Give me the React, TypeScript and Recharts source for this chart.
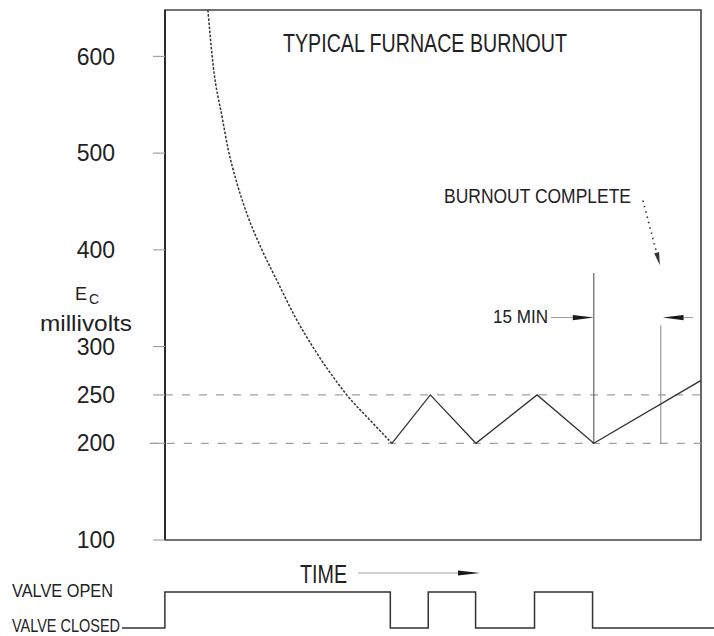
import React from 'react';
import { LineChart, Line, XAxis, YAxis, ReferenceLine, ReferenceArea } from 'recharts';

// Furnace burnout: Ec (millivolts) against time (minutes)
const decayMinutes = [9.6, 10.8, 12.8, 14.1, 16.1, 18.6, 21.7, 25.3, 29.1, 33.6, 38.7, 40.7, 46.3, 50.8];
const decayMillivolts = [648, 590, 537, 505, 469, 434, 400, 366, 331, 296, 262, 250, 222, 200];
const cycleMinutes = [50.8, 59.4, 69.6, 83.3, 96.0, 120];
const cycleMillivolts = [200, 250, 200, 250, 200, 265];
// Valve signal: 1 = open, 0 = closed
const valveMinutes = [-9.6, 0, 50.5, 59.0, 69.6, 82.8, 95.8, 123];
const valveStates = [0, 1, 0, 1, 0, 1, 0, 0];
const yTicks = [100, 200, 250, 300, 400, 500, 600];
const limitLevels = [250, 200];
const burnoutStartMinute = 96;
const burnoutCompleteMinute = 111;
const intervalLabelMv = 330;

const decayData = decayMinutes.map((t, i) => ({ t, mv: decayMillivolts[i] }));
const cycleData = cycleMinutes.map((t, i) => ({ t, mv: cycleMillivolts[i] }));
const valveData = valveMinutes.map((t, i) => ({ t, s: valveStates[i] }));

const FONT = '"Liberation Sans", Arial, Helvetica, sans-serif';
const INK = '#222';

const makeArrow =
  (o: { color: string; width: number; dash?: string; headLen: number; headHalf: number; lineColor?: string }) =>
  (p: any) => {
    const { x1, y1, x2, y2 } = p;
    const dx = x2 - x1;
    const dy = y2 - y1;
    const len = Math.hypot(dx, dy) || 1;
    const ux = dx / len;
    const uy = dy / len;
    const bx = x2 - ux * o.headLen;
    const by = y2 - uy * o.headLen;
    const px = -uy * o.headHalf;
    const py = ux * o.headHalf;
    return (
      <g>
        <line x1={x1} y1={y1} x2={bx} y2={by} stroke={o.lineColor || o.color} strokeWidth={o.width} strokeDasharray={o.dash} />
        <polygon points={`${x2},${y2} ${bx + px},${by + py} ${bx - px},${by - py}`} fill={o.color} />
      </g>
    );
  };

const intervalArrow = makeArrow({ color: '#1a1a1a', width: 1, headLen: 21, headHalf: 2.6, lineColor: '#9a9a9a' });
const completeArrow = makeArrow({ color: '#333', width: 1.6, dash: '1.5 4', headLen: 13, headHalf: 2.5 });

export default function App() {
  return (
    <div style={{ position: 'absolute', left: 0, top: 0, width: 714, height: 636, background: '#fff' }}>
      <div style={{ position: 'absolute', left: 0, top: 0 }}>
        <LineChart width={714} height={560} margin={{ top: 10, right: 13, left: 0, bottom: 20 }}>
          <XAxis type="number" dataKey="t" domain={[0, 120]} hide allowDataOverflow />
          <YAxis
            type="number"
            domain={[100, 648]}
            ticks={yTicks}
            allowDataOverflow
            width={165}
            tickSize={12}
            tickMargin={38}
            tickLine={{ stroke: '#9aa4a8', strokeWidth: 1.2 }}
            axisLine={{ stroke: '#2a2a2a', strokeWidth: 2 }}
            tick={{ fontSize: 23, fill: INK, fontFamily: FONT }}
          />
          <ReferenceArea x1={0} x2={120} y1={100} y2={648} fill="none" stroke="#444" strokeWidth={1.6} ifOverflow="visible" />
          {limitLevels.map((lv, i) => (
            <ReferenceLine
              key={lv}
              segment={[{ x: i === 1 ? -3.4 : 0, y: lv }, { x: 120, y: lv }]}
              stroke="#9aa2a6"
              strokeWidth={1.2}
              strokeDasharray="8 9"
              ifOverflow="visible"
            />
          ))}
          <ReferenceLine segment={[{ x: burnoutStartMinute, y: 200 }, { x: burnoutStartMinute, y: 376 }]} stroke="#555" strokeWidth={1.1} />
          <ReferenceLine segment={[{ x: burnoutCompleteMinute, y: 200 }, { x: burnoutCompleteMinute, y: 322 }]} stroke="#888" strokeWidth={1} />
          <ReferenceLine
            segment={[{ x: 86.4, y: intervalLabelMv }, { x: burnoutStartMinute, y: intervalLabelMv }]}
            shape={intervalArrow}
            ifOverflow="visible"
          />
          <ReferenceLine
            segment={[{ x: 118.2, y: intervalLabelMv }, { x: burnoutCompleteMinute + 0.4, y: intervalLabelMv }]}
            shape={intervalArrow}
            ifOverflow="visible"
          />
          <ReferenceLine
            segment={[{ x: 107.0, y: 451 }, { x: 110.8, y: 384 }]}
            shape={completeArrow}
            ifOverflow="visible"
          />
          <Line
            data={decayData}
            dataKey="mv"
            type="monotone"
            stroke="#333"
            strokeWidth={1.5}
            strokeDasharray="2.5 1.6"
            dot={false}
            isAnimationActive={false}
          />
          <Line
            data={cycleData}
            dataKey="mv"
            type="linear"
            stroke="#333"
            strokeWidth={1.3}
            dot={false}
            isAnimationActive={false}
          />
        </LineChart>
      </div>
      <div style={{ position: 'absolute', left: 0, top: 0 }}>
        <LineChart width={714} height={636} margin={{ top: 592, right: 0, left: 122, bottom: 8 }}>
          <XAxis type="number" dataKey="t" domain={[-9.6, 123]} hide />
          <YAxis type="number" domain={[0, 1]} hide />
          <Line
            data={valveData}
            dataKey="s"
            type="stepAfter"
            stroke="#333"
            strokeWidth={1.5}
            dot={false}
            isAnimationActive={false}
          />
        </LineChart>
      </div>
      <svg width={714} height={636} style={{ position: 'absolute', left: 0, top: 0, pointerEvents: 'none' }}>
        <g fontFamily={FONT} fill={INK}>
          <text x={283} y={52} fontSize={25} textLength={284} lengthAdjust="spacingAndGlyphs">TYPICAL FURNACE BURNOUT</text>
          <text x={444} y={203} fontSize={21} textLength={187} lengthAdjust="spacingAndGlyphs">BURNOUT COMPLETE</text>
          <text x={493} y={323} fontSize={18} textLength={55} lengthAdjust="spacingAndGlyphs">15 MIN</text>
          <text x={75} y={300} fontSize={18}>E</text>
          <text x={89} y={304} fontSize={14}>C</text>
          <text x={40} y={331} fontSize={22} textLength={92} lengthAdjust="spacingAndGlyphs">millivolts</text>
          <text x={300} y={583} fontSize={25} textLength={47} lengthAdjust="spacingAndGlyphs">TIME</text>
          <text x={12} y={597} fontSize={18} textLength={101} lengthAdjust="spacingAndGlyphs">VALVE OPEN</text>
          <text x={12} y={632} fontSize={18} textLength={108} lengthAdjust="spacingAndGlyphs">VALVE CLOSED</text>
        </g>
        <line x1={358} y1={573} x2={460} y2={573} stroke="#9aa4a8" strokeWidth={1} />
        <polygon points="480,573 458,570.4 458,575.6" fill="#1a1a1a" />
      </svg>
    </div>
  );
}
